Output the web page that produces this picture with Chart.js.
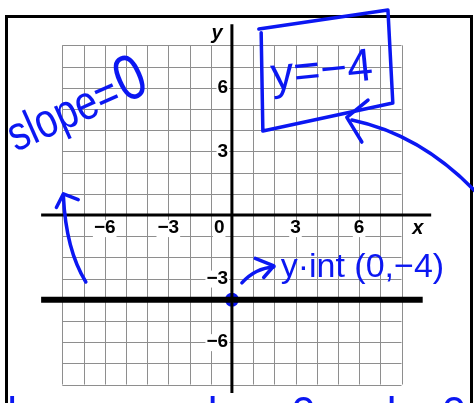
<!DOCTYPE html>
<html>
<head>
<meta charset="utf-8">
<script src="https://cdn.jsdelivr.net/npm/chart.js@4/dist/chart.umd.min.js"></script>
<style>
  body { margin: 0; background: #fff; }
  #wrap { position: relative; width: 474px; height: 403px; overflow: hidden; }
  #frame { position: absolute; left: 5px; top: 15px; width: 462px; height: 400px; border: 3px solid #000; border-bottom: none; }
  #grafico { position: absolute; left: 0; top: 0; }
</style>
</head>
<body>
<div id="wrap">
  <div id="frame"></div>
  <canvas id="grafico" width="474" height="403"></canvas>
</div>
<script>
// datos del grafico
const gridRange = [-8, 8];
const xTicks = [-6, -3, 0, 3, 6];
const yTicks = [6, 3, -3, -6];
const xAxisSpan = [-9, 9.4];
const yAxisSpan = [-8.4, 9];
const lineY = -4;
const lineSpan = [-9, 9];
const yIntercept = [0, -4];

// ventana visible (unidades del plano)
const xView = [-10.94, 11.42];
const yView = [-8.87, 10.14];

const INK = "#0b17f2";

function etiqueta(v) {
  return v < 0 ? "\u2212" + Math.abs(v) : String(v);
}

function trazo(ctx, x, y, pts) {
  // pts: [x0,y0, cx,cy, x1,y1, ...] curvas cuadraticas en unidades del plano
  ctx.beginPath();
  ctx.moveTo(x.getPixelForValue(pts[0]), y.getPixelForValue(pts[1]));
  for (let i = 2; i + 3 < pts.length; i += 4) {
    ctx.quadraticCurveTo(
      x.getPixelForValue(pts[i]), y.getPixelForValue(pts[i + 1]),
      x.getPixelForValue(pts[i + 2]), y.getPixelForValue(pts[i + 3])
    );
  }
  ctx.stroke();
}

function poligono(ctx, x, y, pts) {
  ctx.beginPath();
  for (let i = 0; i < pts.length; i += 2) {
    const px = x.getPixelForValue(pts[i]);
    const py = y.getPixelForValue(pts[i + 1]);
    if (i === 0) ctx.moveTo(px, py);
    else ctx.lineTo(px, py);
  }
  ctx.stroke();
}

const hojaPlugin = {
  id: "hoja",
  beforeDatasetsDraw(chart) {
    const { ctx, scales: { x, y } } = chart;
    ctx.save();
    ctx.strokeStyle = "#8e8e8e";
    ctx.lineWidth = 1;
    const left = x.getPixelForValue(gridRange[0]);
    const right = x.getPixelForValue(gridRange[1]);
    const top = y.getPixelForValue(gridRange[1]);
    const bottom = y.getPixelForValue(gridRange[0]);
    for (let v = gridRange[0]; v <= gridRange[1]; v++) {
      const px = Math.round(x.getPixelForValue(v)) + 0.5;
      const py = Math.round(y.getPixelForValue(v)) + 0.5;
      ctx.beginPath();
      ctx.moveTo(px, top);
      ctx.lineTo(px, bottom);
      ctx.moveTo(left, py);
      ctx.lineTo(right, py);
      ctx.stroke();
    }

    // etiquetas de los ejes
    ctx.font = "bold 19px 'Liberation Sans', Arial, sans-serif";
    ctx.textBaseline = "middle";
    ctx.fillStyle = "#000";
    xTicks.forEach((v) => {
      const t = etiqueta(v);
      const w = ctx.measureText(t).width;
      const cx = x.getPixelForValue(v === 0 ? -0.6 : v);
      const cy = y.getPixelForValue(-0.62);
      ctx.fillStyle = "#fff";
      ctx.fillRect(cx - w / 2 - 1, cy - 8, w + 2, 17);
      ctx.fillStyle = "#000";
      ctx.textAlign = "center";
      ctx.fillText(t, cx, cy);
    });
    yTicks.forEach((v) => {
      const t = etiqueta(v);
      const w = ctx.measureText(t).width;
      const rx = x.getPixelForValue(-0.18);
      const cy = y.getPixelForValue(v);
      ctx.fillStyle = "#fff";
      ctx.fillRect(rx - w - 1, cy - 8, w + 2, 17);
      ctx.fillStyle = "#000";
      ctx.textAlign = "right";
      ctx.fillText(t, rx, cy);
    });
    ctx.font = "italic bold 20px 'Liberation Sans', Arial, sans-serif";
    ctx.textAlign = "center";
    ctx.fillText("y", x.getPixelForValue(-0.7), y.getPixelForValue(8.55));
    ctx.fillText("x", x.getPixelForValue(8.77), y.getPixelForValue(-0.62));
    ctx.restore();
  },
  afterDatasetsDraw(chart) {
    const { ctx, scales: { x, y } } = chart;
    ctx.save();
    ctx.strokeStyle = INK;
    ctx.fillStyle = INK;
    ctx.lineWidth = 3.5;
    ctx.lineCap = "round";
    ctx.lineJoin = "round";

    // caja de y=-4
    poligono(ctx, x, y, [1.27, 8.77, 7.36, 9.67, 7.59, 5.28, 1.46, 3.96, 1.38, 8.6]);
    // flecha hacia la caja
    trazo(ctx, x, y, [11.5, 1.1, 8.9, 3.8, 5.66, 4.48]);
    poligono(ctx, x, y, [6.42, 5.42, 5.42, 4.6, 6.13, 3.44]);
    // flecha izquierda
    trazo(ctx, x, y, [-6.89, -3.16, -7.83, -1.65, -7.95, 0.9]);
    poligono(ctx, x, y, [-8.28, 0.35, -7.95, 1.0, -7.25, 0.72]);
    // flecha corta hacia y-int
    trazo(ctx, x, y, [0.47, -3.2, 1.1, -2.5, 1.98, -2.45]);
    poligono(ctx, x, y, [1.1, -2.05, 1.98, -2.4, 1.5, -2.95]);

    ctx.textBaseline = "alphabetic";
    ctx.textAlign = "left";
    const f = "'Liberation Sans', Arial, sans-serif";

    // slope=0
    ctx.save();
    ctx.translate(x.getPixelForValue(-10.2), y.getPixelForValue(2.97));
    ctx.rotate(-0.42);
    ctx.scale(0.9, 1.1);
    ctx.font = "44px " + f;
    ctx.fillText("slope=", 0, 0);
    const w1 = ctx.measureText("slope=").width;
    ctx.font = "58px " + f;
    ctx.fillText("0", w1 + 2, 0);
    ctx.restore();

    // y=-4
    ctx.save();
    ctx.translate(x.getPixelForValue(1.9), y.getPixelForValue(5.9));
    ctx.rotate(-0.1);
    ctx.font = "46px " + f;
    ctx.fillText("y=\u2212" + Math.abs(lineY), 0, 0);
    ctx.restore();

    // y-int (0,-4)
    ctx.font = "34px " + f;
    ctx.fillText("y\u00b7int (" + yIntercept[0] + "," + "\u2212" + Math.abs(yIntercept[1]) + ")",
      x.getPixelForValue(2.3), y.getPixelForValue(-2.95));

    // texto cortado abajo
    ctx.font = "44px " + f;
    const abajo = [["l", -10.6], ["mml", -4.6], ["0", 2.8], ["x", 4.2], ["l", 7.3], ["0", 9.9]];
    abajo.forEach(([t, vx]) => {
      ctx.fillText(t, x.getPixelForValue(vx), y.getPixelForValue(-10.05));
    });
    ctx.restore();
  },
};

new Chart(document.getElementById("grafico"), {
  type: "line",
  data: {
    datasets: [
      {
        label: "eje x",
        data: xAxisSpan.map((v) => ({ x: v, y: 0 })),
        borderColor: "#000",
        borderWidth: 3,
        pointRadius: 0,
      },
      {
        label: "eje y",
        data: yAxisSpan.map((v) => ({ x: 0, y: v })),
        borderColor: "#000",
        borderWidth: 3,
        pointRadius: 0,
      },
      {
        label: "y = -4",
        data: lineSpan.map((v) => ({ x: v, y: lineY })),
        borderColor: "#000",
        borderWidth: 6,
        pointRadius: 0,
      },
      {
        label: "intercepto",
        data: [{ x: yIntercept[0], y: yIntercept[1] }],
        borderColor: INK,
        backgroundColor: "#fff",
        borderWidth: 4,
        pointRadius: 5,
        showLine: false,
      },
    ],
  },
  options: {
    responsive: false,
    animation: false,
    layout: { padding: 0, autoPadding: false },
    plugins: {
      legend: { display: false },
      tooltip: { enabled: false },
    },
    scales: {
      x: { type: "linear", display: false, min: xView[0], max: xView[1] },
      y: { type: "linear", display: false, min: yView[0], max: yView[1] },
    },
  },
  plugins: [hojaPlugin],
});
</script>
</body>
</html>
